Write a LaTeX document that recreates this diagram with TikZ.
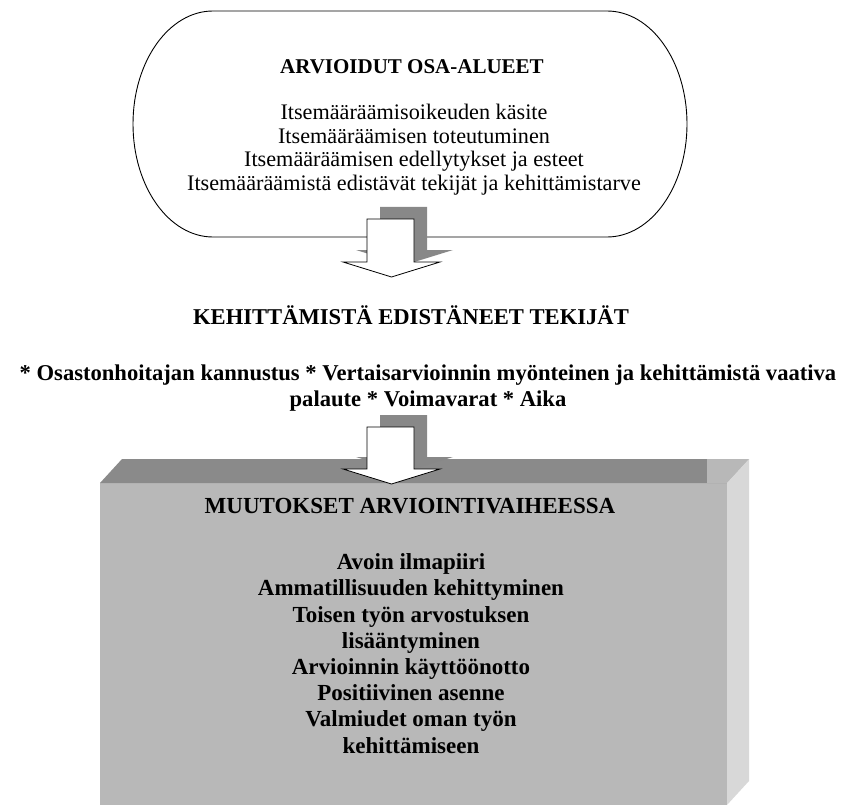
\documentclass[tikz,border=0pt]{standalone}
\usepackage{fontspec}
\setmainfont{Liberation Serif}
\definecolor{frontgray}{HTML}{B8B8B8}
\definecolor{topgray}{HTML}{8A8A8A}
\definecolor{sidegray}{HTML}{D8D8D8}
\definecolor{shadegray}{HTML}{888888}
\begin{document}
\begin{tikzpicture}[x=1pt,y=-1pt,
  outline/.style={draw=black,line width=0.9pt},
  arrowbody/.style={fill=white,draw=black,line width=0.8pt,line join=miter},
  arrowshade/.style={fill=shadegray,draw=none},
  plaintext/.style={font=\fontsize{22.2}{23.5}\selectfont,align=center,inner sep=0pt,anchor=base},
  headtext/.style={font=\fontsize{21}{24}\selectfont\bfseries,align=center,inner sep=0pt,anchor=base},
  boldtext/.style={font=\fontsize{22.6}{26}\selectfont\bfseries,align=center,inner sep=0pt,anchor=base},
  boxtext/.style={font=\fontsize{23}{26.2}\selectfont\bfseries,align=center,inner sep=0pt,anchor=base}]
\useasboundingbox (0,0) rectangle (859,805);

% rounded capsule holding the assessed areas
\path[outline,fill=white]
  (213,11) -- (607,11)
  .. controls (651.2,11) and (687,61.6) .. (687,124)
  .. controls (687,186.4) and (651.2,237) .. (607,237)
  -- (213,237)
  .. controls (168.8,237) and (133,186.4) .. (133,124)
  .. controls (133,61.6) and (168.8,11) .. (213,11) -- cycle;
\node[headtext]  (areatitle) at (412,74) {ARVIOIDUT OSA-ALUEET};
% base anchor sits on the last line
\node[plaintext] (arealist)  at (414,190)
  {Itsemääräämisoikeuden käsite\\
   Itsemääräämisen toteutuminen\\
   Itsemääräämisen edellytykset ja esteet\\
   Itsemääräämistä edistävät tekijät ja kehittämistarve};

% first block arrow with its offset shadow
\begin{scope}[shift={(13,-12)}]
  \path[arrowshade] (367,219) -- (414,219) -- (414,262) -- (440,262)
    -- (391.5,277) -- (343,262) -- (367,262) -- cycle;
\end{scope}
\path[arrowbody] (367,219) -- (414,219) -- (414,262) -- (440,262)
  -- (391.5,277) -- (343,262) -- (367,262) -- cycle;

% promoting factors
\node[boldtext] (factorstitle) at (411,324) {KEHITTÄMISTÄ EDISTÄNEET TEKIJÄT};
\node[boldtext] (factors) at (428,406)
  {* Osastonhoitajan kannustus * Vertaisarvioinnin myönteinen ja kehittämistä vaativa\\
   palaute * Voimavarat * Aika};

% three-dimensional box of changes
\path[fill=frontgray] (100,483) rectangle (727,805);
\path[fill=topgray] (100,483) -- (122,459) -- (749,459) -- (727,483) -- cycle;
\path[fill=frontgray] (707,459) -- (749,459) -- (727,483) -- (707,483) -- cycle;
\path[fill=sidegray] (727,483) -- (749,459) -- (749,781) -- (727,805) -- cycle;

% second block arrow with its offset shadow
\begin{scope}[shift={(13,-12)}]
  \path[arrowshade] (367,427) -- (414,427) -- (414,469) -- (440,469)
    -- (391.5,484) -- (343,469) -- (367,469) -- cycle;
\end{scope}
\path[arrowbody] (367,427) -- (414,427) -- (414,469) -- (440,469)
  -- (391.5,484) -- (343,469) -- (367,469) -- cycle;

\node[boxtext] (changestitle) at (410,513) {MUUTOKSET ARVIOINTIVAIHEESSA};
% base anchor sits on the last line
\node[boxtext] (changes) at (411,753)
  {Avoin ilmapiiri\\
   Ammatillisuuden kehittyminen\\
   Toisen työn arvostuksen\\
   lisääntyminen\\
   Arvioinnin käyttöönotto\\
   Positiivinen asenne\\
   Valmiudet oman työn\\
   kehittämiseen};
\end{tikzpicture}
\end{document}
